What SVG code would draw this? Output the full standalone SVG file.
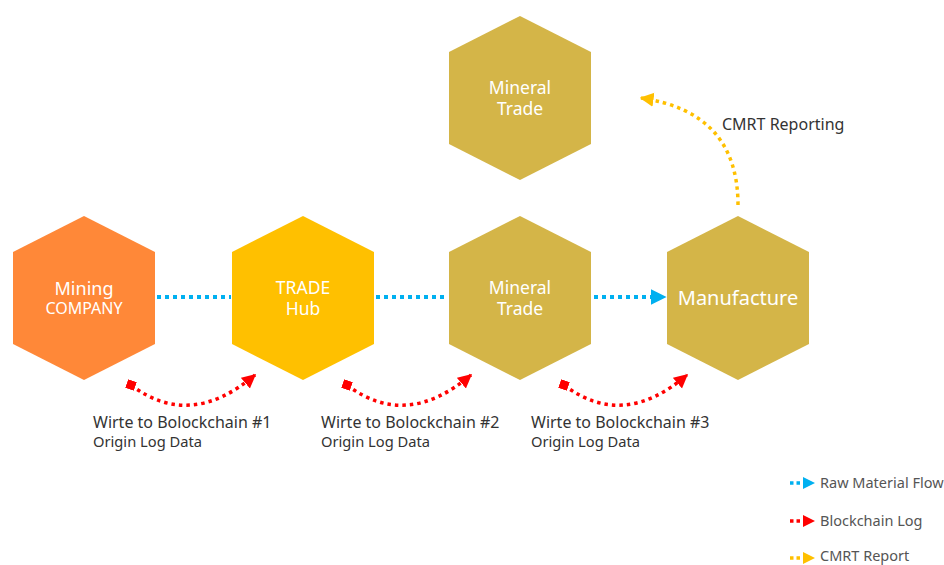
<svg xmlns="http://www.w3.org/2000/svg" width="944" height="565" viewBox="0 0 944 565">
<defs>
<style>
.hex-text{font-family:"Noto Sans","Open Sans","Liberation Sans",sans-serif;fill:#fff;text-anchor:middle}
.lbl{font-family:"Noto Sans","Open Sans","Liberation Sans",sans-serif;fill:#333}
.leg{font-family:"Noto Sans","Open Sans","Liberation Sans",sans-serif;fill:#555;font-size:14.5px}
.blue{stroke:#00B0F0;stroke-width:4;stroke-dasharray:4 4;fill:none}
.red{stroke:#FF0000;stroke-width:3.5;stroke-dasharray:3.5 4;fill:none}
.yel{stroke:#FFC000;stroke-width:3.5;stroke-dasharray:3.5 4;fill:none}
</style>
<marker id="aBlue" viewBox="0 0 10 10" refX="9" refY="5" markerWidth="4" markerHeight="4.5" markerUnits="strokeWidth" orient="auto"><path d="M0,0 L10,5 L0,10 z" fill="#00B0F0"/></marker>
<marker id="aRed" viewBox="0 0 10 10" refX="9" refY="5" markerWidth="4" markerHeight="4.5" markerUnits="strokeWidth" orient="auto"><path d="M0,0 L10,5 L0,10 z" fill="#FF0000"/></marker>
<marker id="sRed" viewBox="0 0 10 10" refX="5" refY="5" markerWidth="2.6" markerHeight="2.6" markerUnits="strokeWidth" orient="20"><rect x="0" y="0" width="10" height="10" fill="#FF0000"/></marker>
<marker id="aYel" viewBox="0 0 10 10" refX="9" refY="5" markerWidth="4" markerHeight="4.5" markerUnits="strokeWidth" orient="auto"><path d="M0,0 L10,5 L0,10 z" fill="#FFC000"/></marker>
<path id="hexShape" d="M0,-82 L71,-46 L71,46 L0,82 L-71,46 L-71,-46 Z"/>
</defs>
<rect width="944" height="565" fill="#fff"/>

<g id="connectors">
<line class="blue" x1="157" y1="297" x2="231" y2="297"/>
<line class="blue" x1="376" y1="297" x2="448" y2="297"/>
<line class="blue" x1="594" y1="297" x2="665" y2="297" marker-end="url(#aBlue)"/>
<path class="red" d="M131,385 Q190,430 255,375" marker-start="url(#sRed)" marker-end="url(#aRed)"/>
<path class="red" d="M347,385 Q406,430 471,375" marker-start="url(#sRed)" marker-end="url(#aRed)"/>
<path class="red" d="M564,385 Q623,430 687,375" marker-start="url(#sRed)" marker-end="url(#aRed)"/>
<path class="yel" d="M738,205 Q738,112 641,98" marker-end="url(#aYel)"/>
</g>

<g id="mining-company">
<use href="#hexShape" x="84" y="298" fill="#FF8838"/>
<text class="hex-text"><tspan x="84" y="295" font-size="18">Mining</tspan><tspan x="84" y="314" font-size="16">COMPANY</tspan></text>
</g>
<g id="trade-hub">
<use href="#hexShape" x="303" y="298" fill="#FFC000"/>
<text class="hex-text" font-size="17.5"><tspan x="303" y="294">TRADE</tspan><tspan x="303" y="315">Hub</tspan></text>
</g>
<g id="mineral-trade">
<use href="#hexShape" x="520" y="298" fill="#D4B548"/>
<text class="hex-text" font-size="17.5"><tspan x="520" y="294">Mineral</tspan><tspan x="520" y="315">Trade</tspan></text>
</g>
<g id="manufacture">
<use href="#hexShape" x="738" y="298" fill="#D4B548"/>
<text class="hex-text" x="738" y="305" font-size="20">Manufacture</text>
</g>
<g id="mineral-trade-top">
<use href="#hexShape" x="520" y="98" fill="#D4B548"/>
<text class="hex-text" font-size="17.5"><tspan x="520" y="94">Mineral</tspan><tspan x="520" y="115">Trade</tspan></text>
</g>

<g id="labels">
<text class="lbl"><tspan x="93" y="428" font-size="16">Wirte to Bolockchain #1</tspan><tspan x="93" y="447" font-size="14.7">Origin Log Data</tspan></text>
<text class="lbl"><tspan x="321" y="428" font-size="16">Wirte to Bolockchain #2</tspan><tspan x="321" y="447" font-size="14.7">Origin Log Data</tspan></text>
<text class="lbl"><tspan x="531" y="428" font-size="16">Wirte to Bolockchain #3</tspan><tspan x="531" y="447" font-size="14.7">Origin Log Data</tspan></text>
<text class="lbl" x="722" y="130" font-size="16">CMRT Reporting</text>
</g>

<g id="legend">
<line class="blue" x1="790" y1="483" x2="803" y2="483" style="stroke-width:3.5;stroke-dasharray:3.5 3"/>
<path d="M803,477 L815,483 L803,489 Z" fill="#00B0F0"/>
<text class="leg" x="820" y="488">Raw Material Flow</text>
<line class="red" x1="790" y1="521" x2="803" y2="521" style="stroke-dasharray:3.5 3"/>
<path d="M803,515 L815,521 L803,527 Z" fill="#FF0000"/>
<text class="leg" x="820" y="526">Blockchain Log</text>
<line class="yel" x1="790" y1="558" x2="803" y2="558" style="stroke-dasharray:3.5 3"/>
<path d="M803,552 L815,558 L803,564 Z" fill="#FFC000"/>
<text class="leg" x="820" y="561">CMRT Report</text>
</g>
</svg>
